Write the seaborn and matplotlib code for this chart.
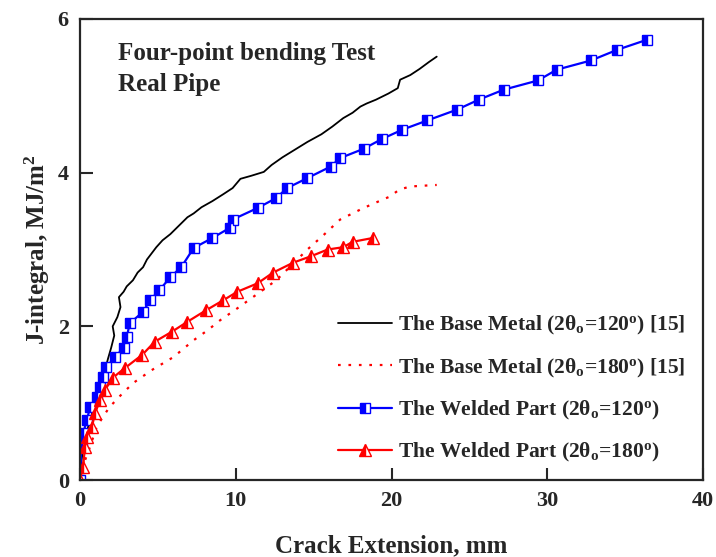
import pandas as pd
import seaborn as sns
import matplotlib.pyplot as plt

# Base metal, 2theta_o = 120 deg (solid black, ref [15])
base120_x = [0.0, 0.1, 0.2, 0.4, 0.6, 0.8, 1.0, 1.3, 1.5, 1.8, 2.0, 2.2, 2.1, 2.4, 2.6, 2.5, 2.8, 3.0,
             3.4, 3.7, 4.05, 4.3, 4.9, 5.3, 5.8, 6.3, 6.9, 7.3, 7.8, 8.5, 9.2, 9.8, 10.3, 11.0, 11.8,
             12.3, 13.0, 13.8, 14.6, 15.5, 16.2, 16.9, 17.5, 18.0, 18.4, 19.0, 19.8, 20.4, 20.55, 21.2,
             21.8, 22.4, 22.9]
base120_y = [0.0, 0.25, 0.42, 0.6, 0.75, 0.88, 1.0, 1.2, 1.35, 1.58, 1.72, 1.88, 2.0, 2.12, 2.25, 2.38,
             2.45, 2.52, 2.6, 2.7, 2.77, 2.87, 3.03, 3.12, 3.2, 3.3, 3.42, 3.47, 3.55, 3.63, 3.72, 3.8,
             3.92, 3.96, 4.01, 4.1, 4.2, 4.3, 4.4, 4.5, 4.6, 4.71, 4.78, 4.86, 4.9, 4.95, 5.03, 5.1,
             5.21, 5.27, 5.35, 5.44, 5.51]

# Base metal, 2theta_o = 180 deg (dotted red, ref [15])
base180_x = [0.0, 0.2, 0.4, 0.64, 1.07, 1.5, 1.9, 2.6, 3.4, 4.6, 6.0, 7.3, 8.2, 9.0, 10.0, 11.1, 12.6,
             13.6, 14.6, 15.7, 16.7, 17.4, 18.2, 19.1, 19.9, 20.5, 21.2, 22.0, 22.9]
base180_y = [0.0, 0.18, 0.3, 0.43, 0.69, 0.83, 0.95, 1.1, 1.26, 1.43, 1.6, 1.82, 1.95, 2.08, 2.22, 2.38,
             2.6, 2.8, 3.0, 3.2, 3.39, 3.46, 3.54, 3.62, 3.69, 3.78, 3.82, 3.83, 3.84]

# Welded part, 2theta_o = 120 deg (blue squares)
weld120_x = [0.0, 0.1, 0.2, 0.45, 0.64, 1.07, 1.3, 1.5, 1.7, 2.25, 2.8, 3.0, 3.2, 4.05, 4.5, 5.1, 5.8,
             6.5, 7.3, 8.5, 9.6, 9.8, 11.4, 12.6, 13.3, 14.6, 16.1, 16.7, 18.2, 19.4, 20.7, 22.3, 24.2,
             25.6, 27.2, 29.4, 30.6, 32.8, 34.5, 36.4]
weld120_y = [0.0, 0.48, 0.61, 0.78, 0.95, 1.08, 1.21, 1.34, 1.47, 1.6, 1.72, 1.86, 2.04, 2.19, 2.34,
             2.47, 2.64, 2.77, 3.02, 3.15, 3.28, 3.39, 3.54, 3.67, 3.8, 3.93, 4.08, 4.19, 4.31, 4.44,
             4.56, 4.68, 4.82, 4.95, 5.08, 5.2, 5.34, 5.46, 5.6, 5.73]

# Welded part, 2theta_o = 180 deg (red triangles)
weld180_x = [0.0, 0.2, 0.2, 0.2, 0.32, 0.45, 0.77, 0.96, 1.3, 1.6, 2.1, 2.9, 4.0, 4.8, 5.9, 6.9, 8.1,
             9.2, 10.1, 11.4, 12.4, 13.7, 14.8, 15.9, 16.9, 17.5, 18.8]
weld180_y = [0.0, 0.04, 0.17, 0.3, 0.43, 0.56, 0.69, 0.87, 1.04, 1.17, 1.33, 1.46, 1.63, 1.8, 1.93,
             2.06, 2.21, 2.34, 2.45, 2.56, 2.7, 2.83, 2.91, 3.0, 3.03, 3.1, 3.15]

x_ticks = [0, 10, 20, 30, 40]
y_ticks = [0, 2, 4, 6]

sns.set_style("ticks")
plt.rcParams["font.family"] = ["Liberation Serif", "DejaVu Serif"]
plt.rcParams["font.weight"] = "bold"
plt.rcParams["mathtext.fontset"] = "custom"
plt.rcParams["mathtext.rm"] = "Liberation Serif:bold"
plt.rcParams["mathtext.it"] = "Liberation Serif:bold"
plt.rcParams["mathtext.bf"] = "Liberation Serif:bold"
plt.rcParams["mathtext.default"] = "regular"

fig = plt.figure(figsize=(7.16, 5.57), dpi=100)
ax = fig.add_axes([0.1117, 0.1382, 0.8703, 0.8277])

df_b120 = pd.DataFrame({"x": base120_x, "y": base120_y})
df_b180 = pd.DataFrame({"x": base180_x, "y": base180_y})
df_w120 = pd.DataFrame({"x": weld120_x, "y": weld120_y})
df_w180 = pd.DataFrame({"x": weld180_x, "y": weld180_y})

sns.lineplot(data=df_b120, x="x", y="y", ax=ax, color="black", lw=1.3, sort=False,
             label=r"The Base Metal (2θ$_o$=120$^o$) [15]")
sns.lineplot(data=df_b180, x="x", y="y", ax=ax, color="red", lw=1.6, sort=False,
             linestyle=(0, (1.2, 3.5)), label=r"The Base Metal (2θ$_o$=180$^o$) [15]")
sns.lineplot(data=df_w120, x="x", y="y", ax=ax, color="blue", lw=1.6, sort=False,
             marker="s", markersize=7, fillstyle="left", markerfacecolor="blue",
             markerfacecoloralt="white", markeredgecolor="blue", markeredgewidth=1.0,
             label=r"The Welded Part (2θ$_o$=120$^o$)")
sns.lineplot(data=df_w180, x="x", y="y", ax=ax, color="red", lw=1.6, sort=False,
             marker="^", markersize=9, fillstyle="left", markerfacecolor="red",
             markerfacecoloralt="white", markeredgecolor="red", markeredgewidth=1.0,
             label=r"The Welded Part (2θ$_o$=180$^o$)")

ax.set_xlim(0, 40)
ax.set_ylim(0, 6)
ax.set_xticks(x_ticks)
ax.set_yticks(y_ticks)
ax.tick_params(direction="in", length=9, width=1.5, labelsize=16, pad=8,
               top=False, right=False)
for sp in ax.spines.values():
    sp.set_linewidth(1.6)

ax.set_xlabel("Crack Extension, mm", fontsize=18, fontweight="bold", labelpad=17)
ax.set_ylabel(r"J-integral, MJ/m$^2$", fontsize=18, fontweight="bold", labelpad=4)

ax.text(2.45, 5.7, "Four-point bending Test\nReal Pipe", fontsize=18, fontweight="bold",
        va="top", ha="left", linespacing=1.45)

leg = ax.legend(loc="lower right", bbox_to_anchor=(1.003, -0.008), frameon=False, fontsize=15.5,
                handlelength=2.5, labelspacing=0.9, handletextpad=0.3)

fig.savefig("out.png", dpi=100)
